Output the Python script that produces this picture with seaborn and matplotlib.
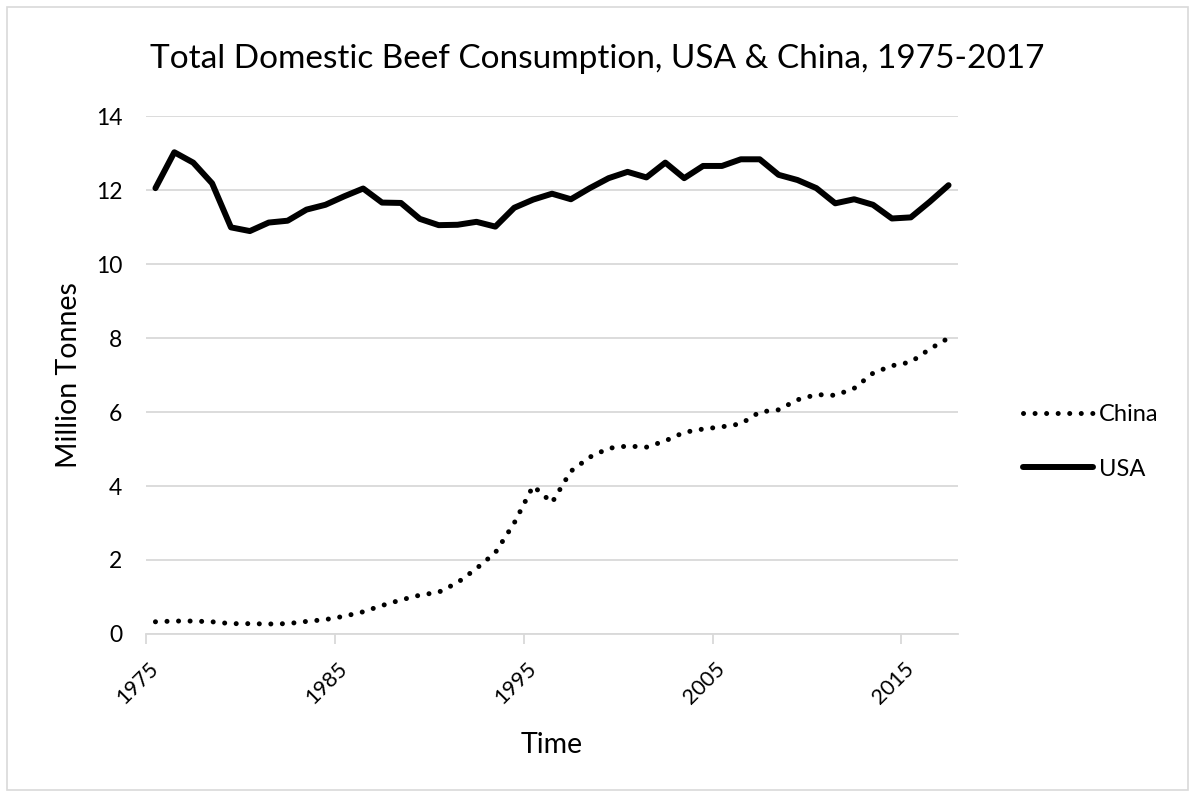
import numpy as np
import pandas as pd
import seaborn as sns
import matplotlib.pyplot as plt
from matplotlib.lines import Line2D
from matplotlib.patches import Rectangle

years = list(range(1975, 2018))

usa = [12.05, 13.02, 12.74, 12.18, 10.99, 10.89, 11.12, 11.17, 11.47, 11.60,
       11.83, 12.04, 11.66, 11.65, 11.22, 11.05, 11.06, 11.14, 11.01, 11.52,
       11.74, 11.90, 11.75, 12.05, 12.32, 12.49, 12.34, 12.74, 12.32, 12.65,
       12.65, 12.83, 12.83, 12.41, 12.27, 12.05, 11.64, 11.75, 11.60, 11.23,
       11.26, 11.68, 12.13]

china = [0.33, 0.35, 0.35, 0.33, 0.28, 0.28, 0.27, 0.28, 0.34, 0.39,
         0.48, 0.60, 0.77, 0.92, 1.05, 1.13, 1.39, 1.77, 2.20, 3.00,
         4.00, 3.55, 4.40, 4.78, 5.02, 5.08, 5.05, 5.22, 5.45, 5.54,
         5.60, 5.68, 6.00, 6.06, 6.33, 6.47, 6.45, 6.64, 7.05, 7.25,
         7.35, 7.70, 8.00]

yticks = [0, 2, 4, 6, 8, 10, 12, 14]
xlabels = [1975, 1985, 1995, 2005, 2015]

FONT = "Lato"


def main():
    sns.set_theme(style="white", rc={"text.color": "black", "axes.labelcolor": "black",
                                     "xtick.color": "black", "ytick.color": "black"})
    plt.rcParams["font.family"] = [FONT, "DejaVu Sans"]

    df = pd.DataFrame({"Year": years, "USA": usa, "China": china})

    fig = plt.figure(figsize=(11.95, 7.95), dpi=100)
    ax = fig.add_axes([146 / 1195, 1 - 634 / 795, (958 - 146) / 1195, (634 - 116) / 795])

    # chart area border
    fig.patches.append(Rectangle((7 / 1195, 5 / 795), 1181 / 1195, 783 / 795,
                                 transform=fig.transFigure, fill=False,
                                 edgecolor="#d9d9d9", linewidth=1.2))

    sns.lineplot(data=df, x="Year", y="USA", ax=ax, color="black",
                 linewidth=4.3, legend=False)
    sns.lineplot(data=df, x="Year", y="China", ax=ax, color="black",
                 linewidth=3.6, legend=False)
    ax.lines[1].set_dashes((0.01, 2.3))
    ax.lines[1].set_dash_capstyle("round")

    ax.set_xlim(1974.5, 2017.5)
    ax.set_ylim(0, 14)
    ax.set_yticks(yticks)
    ax.set_yticklabels([str(v) for v in yticks], fontsize=16.5)
    ax.yaxis.grid(True, color="#d9d9d9", linewidth=1.3)
    ax.set_axisbelow(True)
    ax.tick_params(axis="y", length=0, pad=17)

    # tick marks sit between categories, labels on the category itself
    ax.set_xticks([y - 0.5 for y in xlabels])
    ax.set_xticklabels([])
    ax.tick_params(axis="x", length=7, width=1.3, color="#d9d9d9",
                   direction="out", bottom=True)
    for yr in xlabels:
        ax.text(yr - 0.36, -0.665, str(yr), rotation=45, ha="right", va="top",
                rotation_mode="anchor", fontsize=15.5)

    for side in ["top", "right", "left"]:
        ax.spines[side].set_visible(False)
    ax.spines["bottom"].set_color("#d9d9d9")
    ax.spines["bottom"].set_linewidth(1.3)

    ax.set_xlabel("Time", fontsize=20.5, labelpad=60)
    ax.set_ylabel("Million Tonnes", fontsize=20.5, labelpad=10)
    fig.text(597 / 1195, 1 - 59 / 795, "Total Domestic Beef Consumption, USA & China, 1975-2017",
             ha="center", va="center", fontsize=24)

    handles = [
        Line2D([], [], color="black", linewidth=3.6, dashes=(0.01, 2.3), dash_capstyle="round"),
        Line2D([], [], color="black", linewidth=4.3),
    ]
    fig.legend(handles, ["China", "USA"], loc="center left",
               bbox_to_anchor=(1002 / 1195, 1 - 442 / 795), frameon=False,
               fontsize=17, handlelength=2.95, handletextpad=0.25, labelspacing=1.4)

    fig.savefig("out.png", dpi=100)


if __name__ == "__main__":
    main()
